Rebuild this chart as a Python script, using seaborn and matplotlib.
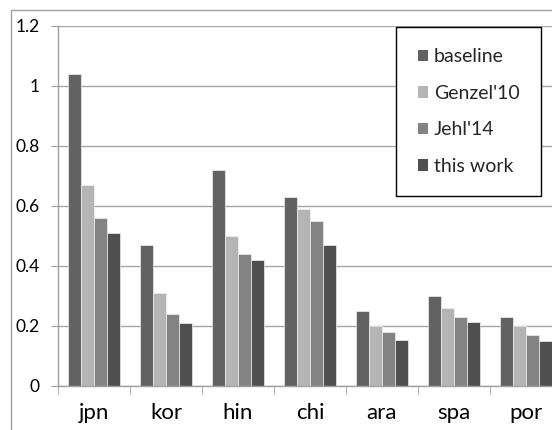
import pandas as pd
import seaborn as sns
import matplotlib.pyplot as plt
import matplotlib.patches as patches
import numpy as np

# data
languages = ['jpn', 'kor', 'hin', 'chi', 'ara', 'spa', 'por']
methods = ['baseline', "Genzel'10", "Jehl'14", 'this work']
baseline = [1.04, 0.47, 0.72, 0.63, 0.25, 0.30, 0.23]
genzel10 = [0.67, 0.31, 0.50, 0.59, 0.20, 0.26, 0.20]
jehl14 = [0.56, 0.24, 0.44, 0.55, 0.18, 0.23, 0.17]
this_work = [0.51, 0.21, 0.42, 0.47, 0.155, 0.215, 0.15]
colors = ['#626262', '#b4b4b4', '#838383', '#4f4f4f']

rows = []
for m, vals in zip(methods, [baseline, genzel10, jehl14, this_work]):
    for lang, v in zip(languages, vals):
        rows.append({'lang': lang, 'method': m, 'value': v})
df = pd.DataFrame(rows)

sns.set_style('white')
plt.rcParams['font.family'] = ['Lato', 'DejaVu Sans']

fig = plt.figure(figsize=(5.52, 4.30), dpi=100)
# axes runs past the right edge, like the cropped original
ax = fig.add_axes([58 / 552, 44 / 430, 504 / 552, 360 / 430])

sns.barplot(data=df, x='lang', y='value', hue='method', order=languages,
            hue_order=methods, palette=colors, width=0.72, ax=ax,
            edgecolor='#f0f0f0', linewidth=0.5, errorbar=None, saturation=1)

ax.set_ylim(0, 1.2)
ax.set_xlim(-0.5, len(languages) - 0.5)
ax.set_yticks(np.arange(0, 1.21, 0.2))
ax.set_yticklabels(['0', '0.2', '0.4', '0.6', '0.8', '1', '1.2'])
ax.yaxis.grid(True, color='#a6a6a6', lw=1)
ax.set_axisbelow(True)
ax.set_xlabel('')
ax.set_ylabel('')

for s in ['top', 'right']:
    ax.spines[s].set_visible(False)
for s in ['left', 'bottom']:
    ax.spines[s].set_color('#a0a0a0')
    ax.spines[s].set_linewidth(1)

ax.tick_params(axis='y', left=True, length=5, color='#a0a0a0', pad=8,
               labelsize=12.5, labelcolor='black')
ax.set_xticks(np.arange(-0.5, len(languages), 1), minor=True)
ax.tick_params(axis='x', which='minor', bottom=True, length=6, color='#a0a0a0')
ax.tick_params(axis='x', which='major', bottom=False, length=0, pad=12,
               labelsize=16, labelcolor='black')

leg = ax.legend(loc='upper left', bbox_to_anchor=(0.671, 0.997), frameon=True,
                fancybox=False, fontsize=14, handlelength=0.55, handleheight=0.55,
                handletextpad=0.3, labelspacing=1.0, borderpad=1.1,
                borderaxespad=0)
leg.get_frame().set_edgecolor('black')
leg.get_frame().set_linewidth(1)
leg.get_frame().set_alpha(1)
for h in leg.legend_handles:
    h.set_edgecolor('none')

# outer chart frame
fig.patches.append(patches.Rectangle((11 / 552, -0.1), 1.2, 1.1 - 10 / 430,
                                     transform=fig.transFigure, fill=False,
                                     edgecolor='#a0a0a0', lw=1))

fig.savefig('out.png', dpi=100)
